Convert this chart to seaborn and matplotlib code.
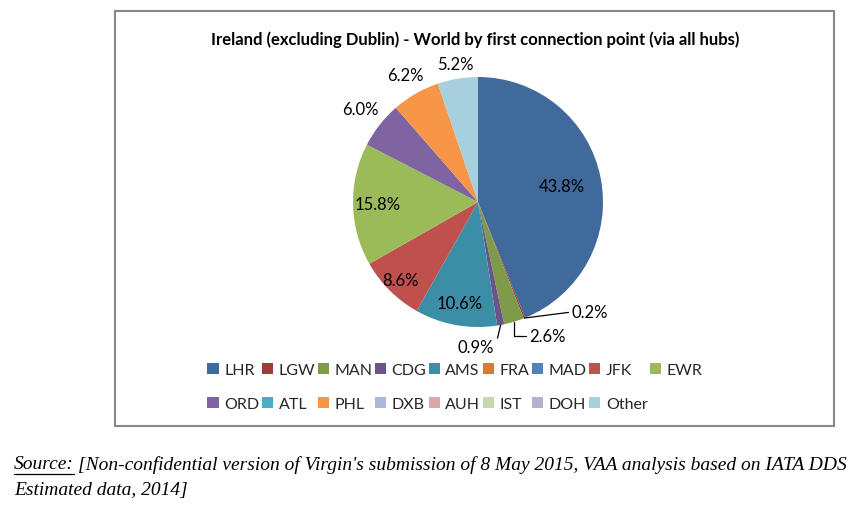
import matplotlib
matplotlib.use("Agg")
import matplotlib.pyplot as plt
import numpy as np
import seaborn as sns
from matplotlib.patches import Patch, Rectangle
from matplotlib.lines import Line2D

# data (clockwise from 12 o'clock)
hubs = ["LHR", "LGW", "MAN", "CDG", "AMS", "FRA", "MAD", "JFK", "EWR",
        "ORD", "ATL", "PHL", "DXB", "AUH", "IST", "DOH", "Other"]
shares = [43.8, 0.2, 2.6, 0.9, 10.6, 0.0, 0.0, 8.6, 15.8,
          6.0, 0.0, 6.2, 0.0, 0.0, 0.0, 0.0, 5.2]
hub_colors = ["#40699C", "#9E3B39", "#7F9A48", "#6A5488", "#3B8EA5", "#D17D3A",
              "#4F81BD", "#C0504D", "#9BBB59", "#8064A2", "#4BACC6", "#F79646",
              "#A9B9D9", "#DCA8A7", "#C7D8AD", "#BBB0CB", "#A7CFDD"]

title = "Ireland (excluding Dublin) - World by first connection point (via all hubs)"
source_lead = "Source:"
source_line1 = "[Non-confidential version of Virgin's submission of 8 May 2015, VAA analysis based on IATA DDS"
source_line2 = "Estimated data, 2014]"

sns.set_theme(style="white")
plt.rcParams["font.family"] = ["Lato", "DejaVu Sans"]
palette = sns.color_palette(hub_colors)

fig = plt.figure(figsize=(8.61, 5.10), dpi=100)
W, H = 861, 510

# chart frame
fig.patches.append(Rectangle((115 / W, 1 - 427 / H), 719 / W, 415 / H,
                             transform=fig.transFigure, fill=False,
                             edgecolor="#878787", linewidth=1.5))

# pie axes: square of 300 px centred on (478, 203)
cx, cy, half = 478, 203, 150
ax = fig.add_axes([(cx - half) / W, 1 - (cy + half) / H, 2 * half / W, 2 * half / H])

wedges, _ = ax.pie(shares, colors=palette, startangle=90, counterclock=False,
                   radius=1.0, wedgeprops=dict(linewidth=0))
ax.set_xlim(-1.2, 1.2)
ax.set_ylim(-1.2, 1.2)
ax.set_aspect("equal")
ax.axis("off")

# label placement: radius for inside/outside, leader-line text offsets
label_radius = {"LHR": 0.68, "AMS": 0.82, "JFK": 0.88, "EWR": 0.80,
                "ORD": 1.20, "PHL": 1.17, "Other": 1.12}
leaders = {"LGW": ((0.75, -0.88), "left", (0, 0.5), "arc3"),
           "MAN": ((0.41, -1.07), "left", (0, 0.5), "angle,angleA=0,angleB=90,rad=0"),
           "CDG": ((0.13, -1.16), "right", (1, 0.2), "arc3")}

cum = 0.0
total = sum(shares)
for hub, val in zip(hubs, shares):
    mid = 90 - (cum + val / 2) / total * 360
    cum += val
    if val == 0:
        continue
    ang = np.deg2rad(mid)
    txt = f"{val:.1f}%"
    if hub in label_radius:
        r = label_radius[hub]
        ax.text(r * np.cos(ang), r * np.sin(ang), txt, ha="center", va="center",
                fontsize=12, color="#000000")
    else:
        xytext, ha, relpos, conn = leaders[hub]
        ax.annotate(txt, xy=(np.cos(ang), np.sin(ang)), xytext=xytext,
                    ha=ha, va="center", fontsize=12, color="#000000",
                    annotation_clip=False,
                    arrowprops=dict(arrowstyle="-", color="#000000", lw=0.9,
                                    relpos=relpos, connectionstyle=conn,
                                    shrinkA=0, shrinkB=0))

fig.text(475 / W, 1 - 40 / H, title, ha="center", va="center",
         fontsize=12, fontweight="bold", color="#000000")

# legend reads row by row: 9 on the first row, 8 on the second
ncol = 9
order = []
for j in range(ncol):
    order.append(j)
    if j + ncol < len(hubs):
        order.append(j + ncol)
handles = [Patch(facecolor=palette[i], edgecolor="none") for i in order]
labels = [hubs[i] for i in order]
fig.legend(handles, labels, ncol=ncol, loc="center", bbox_to_anchor=(455 / W, 1 - 388 / H),
           frameon=False, fontsize=11.5, handlelength=0.7, handleheight=0.7,
           handletextpad=0.35, columnspacing=0.15, labelspacing=1.25)

# source note underneath the chart
src_font = dict(family=["Liberation Serif", "DejaVu Serif"], style="italic",
                fontsize=14.0, color="#000000")
lead = fig.text(14 / W, 1 - 465 / H, source_lead, ha="left", va="center", **src_font)
fig.canvas.draw()
bb = lead.get_window_extent()
fig.text((bb.x1 + 4) / W, 1 - 465 / H, source_line1, ha="left", va="center", **src_font)
fig.text(14 / W, 1 - 491 / H, source_line2, ha="left", va="center", **src_font)
fig.add_artist(Line2D([bb.x0 / W, bb.x1 / W], [(bb.y0 - 1) / H, (bb.y0 - 1) / H],
                      transform=fig.transFigure, color="#000000", lw=0.9))

fig.savefig("out.png", dpi=100)
